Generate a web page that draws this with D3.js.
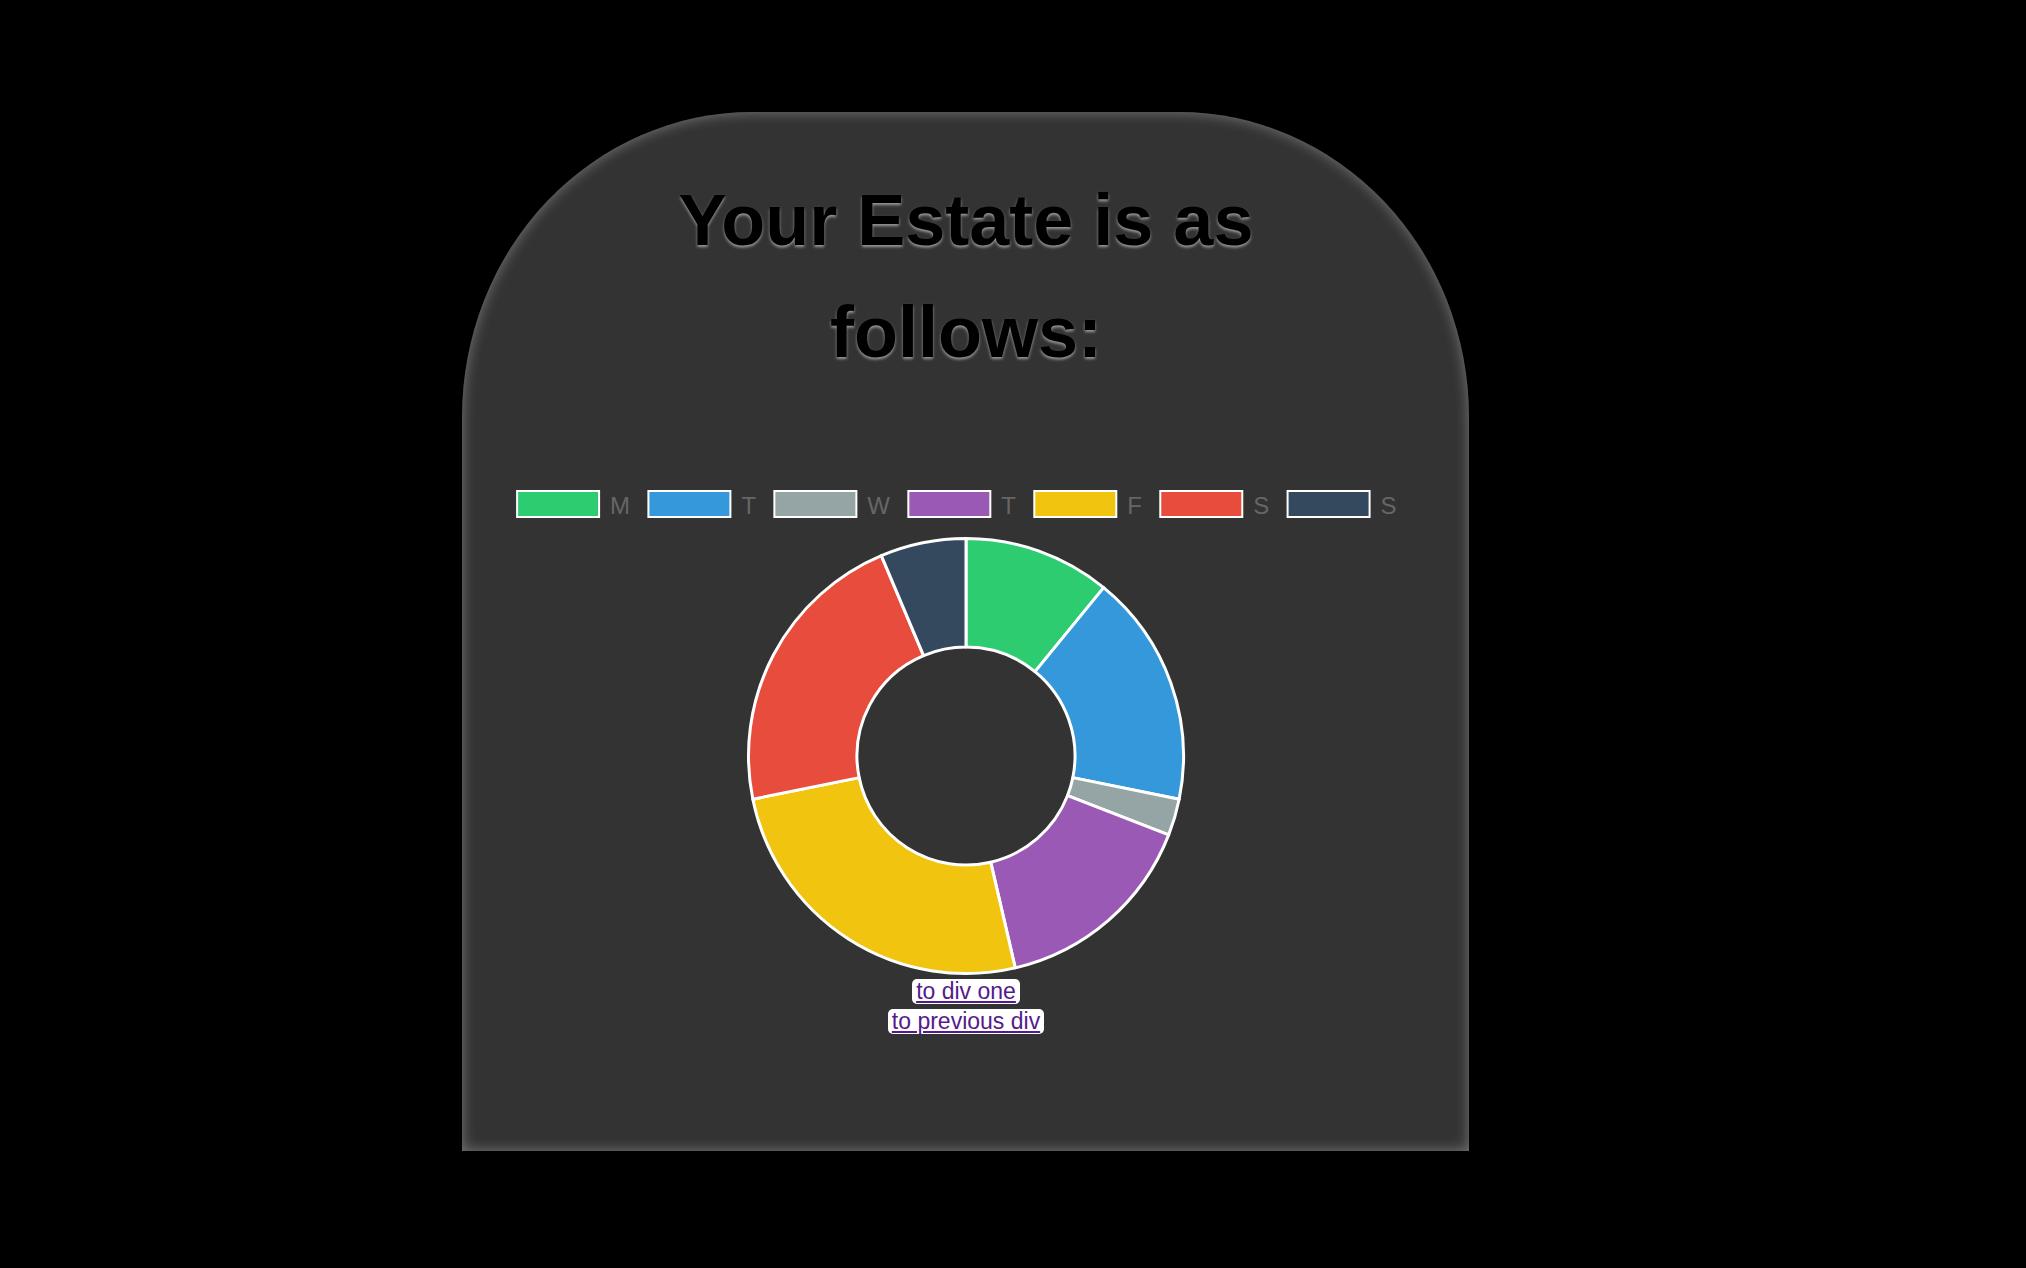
<!DOCTYPE html>
<html>
<head>
<meta charset="utf-8">
<script src="https://cdn.jsdelivr.net/npm/d3@7"></script>
<style>
  html, body { margin: 0; padding: 0; background: #000; width: 2026px; height: 1268px; overflow: hidden; }
  #card {
    position: absolute; left: 462px; top: 112px; width: 1007px; height: 1039px;
    background: #333;
    border-radius: 290px 290px 0 0 / 305px 305px 0 0;
    box-shadow: inset 0 0 14px rgba(255,255,255,0.35);
  }
  #title {
    position: absolute; left: 616px; top: 164px; width: 700px; margin: 0;
    text-align: center; font-family: "Liberation Sans", Arial, Helvetica, sans-serif;
    font-weight: bold; font-size: 72px; line-height: 112px; color: #000;
    text-shadow: 0 2px 3px rgba(255,255,255,0.5);
  }
  #links {
    position: absolute; left: 766px; top: 979px; width: 400px;
    font-family: "Liberation Sans", Arial, Helvetica, sans-serif; font-size: 23px;
  }
  #links a {
    display: table; margin: 0 auto 5px auto; padding: 0 4px; line-height: 25px; height: 25px;
    background: #fff; border-radius: 5px; color: #551A8B; text-decoration: underline;
  }
  svg { position: absolute; left: 0; top: 0; }
</style>
</head>
<body>
<div id="card"></div>
<h1 id="title">Your Estate is as follows:</h1>
<svg id="chart" width="2026" height="1268"></svg>
<div id="links"></div>
<script>
const labels = ["M", "T", "W", "T", "F", "S", "S"];
const values = [12, 19, 3, 17, 28, 24, 7];
const colors = ["#2ecc71", "#3498db", "#95a5a6", "#9b59b6", "#f1c40f", "#e74c3c", "#34495e"];
const linkTexts = ["to div one", "to previous div"];

const svg = d3.select("#chart");
const cx = 966, cy = 756;
const outerR = 217.5, innerR = 109;

// Legend
const legendFont = 24, boxW = 80, boxH = 26, pad = 19.3;
const legendY = 491;
const lg = svg.append("g").attr("font-family", "'Liberation Sans', Arial, Helvetica, sans-serif")
  .attr("font-size", legendFont);
const items = lg.selectAll("g.item").data(labels.map((l, i) => ({ label: l, color: colors[i] })))
  .join("g").attr("class", "item");
items.append("rect").attr("width", boxW + 2).attr("height", boxH)
  .attr("fill", d => d.color).attr("stroke", "#fff").attr("stroke-width", 2);
items.append("text").attr("x", boxW + 2 + legendFont / 2 - 1).attr("y", 23)
  .attr("fill", "#666").text(d => d.label);
let widths = [];
items.each(function() {
  const tw = d3.select(this).select("text").node().getComputedTextLength();
  widths.push(boxW + legendFont / 2 + tw + pad);
});
const total = d3.sum(widths);
let x0 = cx - total / 2;
items.attr("transform", (d, i) => {
  const t = `translate(${x0},${legendY})`;
  x0 += widths[i];
  return t;
});

// Donut
const pie = d3.pie().sort(null).value(d => d);
const arc = d3.arc().innerRadius(innerR).outerRadius(outerR);
svg.append("g").attr("transform", `translate(${cx},${cy})`)
  .selectAll("path").data(pie(values)).join("path")
  .attr("d", arc).attr("fill", (d, i) => colors[i])
  .attr("stroke", "#fff").attr("stroke-width", 3).attr("stroke-linejoin", "round");

// Links
d3.select("#links").selectAll("a").data(linkTexts).join("a")
  .attr("href", "#").text(d => d);
</script>
</body>
</html>
